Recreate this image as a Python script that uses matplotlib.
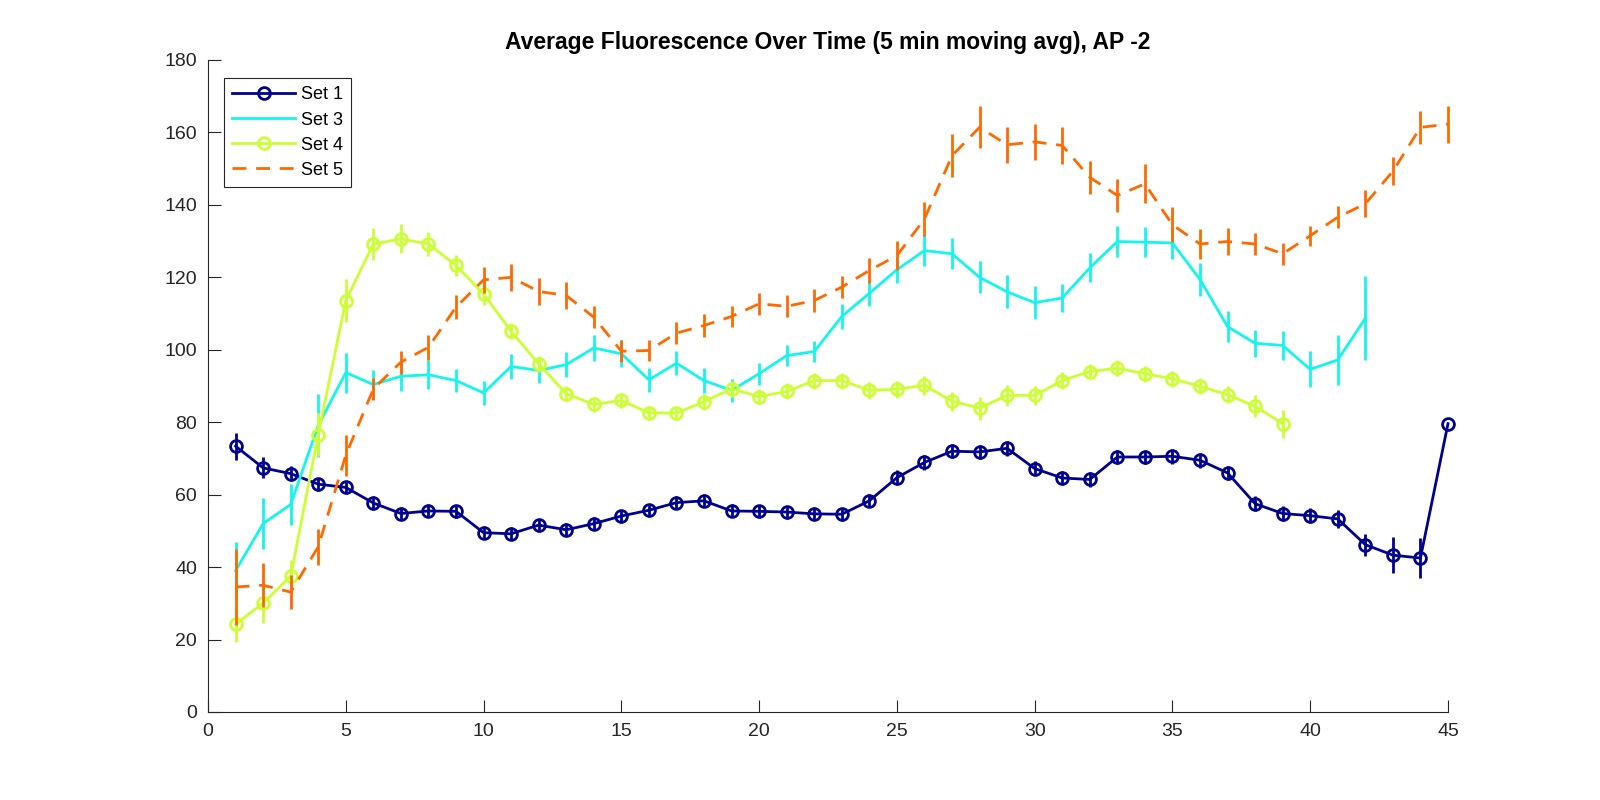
import numpy as np
import matplotlib
matplotlib.use("Agg")
import matplotlib.pyplot as plt

plt.rcParams['font.family'] = ['Liberation Sans', 'DejaVu Sans']

# valores
x1 = list(range(1, 46))
set1 = [73.4, 67.4, 65.8, 62.9, 62.0, 57.7, 54.8, 55.5, 55.4, 49.5,
        49.2, 51.6, 50.3, 52.0, 54.1, 55.7, 57.8, 58.3, 55.5, 55.4,
        55.2, 54.7, 54.6, 58.3, 64.7, 68.9, 72.0, 71.8, 72.8, 67.2,
        64.6, 64.2, 70.4, 70.4, 70.6, 69.5, 66.0, 57.5, 54.8, 54.2,
        53.3, 46.2, 43.3, 42.5, 79.6]
err1 = [3.7, 2.9, 2.0, 1.8, 1.8, 1.8, 1.8, 1.8, 1.8, 1.8,
        1.8, 1.8, 1.8, 1.8, 1.8, 1.8, 1.8, 1.8, 1.8, 1.8,
        1.8, 1.8, 1.8, 1.8, 2.0, 2.0, 2.0, 2.0, 2.0, 2.0,
        2.0, 2.0, 2.0, 2.0, 2.0, 2.0, 2.0, 2.0, 2.0, 2.0,
        2.5, 3.0, 5.0, 5.5, 0.0]

x3 = list(range(1, 43))
set3 = [39.0, 52.0, 57.3, 79.1, 93.7, 90.4, 92.7, 93.1, 91.5, 88.1,
        95.4, 94.3, 95.9, 100.5, 98.9, 91.7, 96.3, 91.5, 88.8, 93.4,
        98.4, 99.5, 109.2, 115.6, 122.1, 127.4, 126.5, 120.0, 116.0, 113.0,
        114.3, 122.6, 129.9, 129.7, 129.5, 119.4, 106.4, 101.8, 101.2, 94.6,
        97.2, 108.7]
err3 = [8.0, 7.0, 5.7, 8.7, 5.5, 4.0, 4.0, 4.0, 3.2, 3.4,
        3.5, 3.6, 3.4, 3.5, 3.7, 3.4, 3.4, 3.5, 3.2, 3.0,
        3.0, 3.0, 3.4, 3.5, 3.8, 4.3, 4.3, 4.4, 4.6, 4.5,
        3.8, 4.0, 4.2, 4.2, 4.5, 4.5, 4.2, 3.7, 4.0, 5.0,
        6.8, 11.6]

x4 = list(range(1, 40))
set4 = [24.2, 30.1, 37.5, 76.6, 113.6, 129.2, 130.6, 129.2, 123.3, 115.4,
        105.1, 96.1, 87.9, 84.9, 86.0, 82.6, 82.5, 85.7, 89.2, 87.1,
        88.5, 91.5, 91.5, 88.8, 89.1, 90.2, 85.8, 83.9, 87.4, 87.4,
        91.5, 94.0, 94.9, 93.4, 92.0, 89.9, 87.6, 84.4, 79.6]
err4 = [5.0, 5.5, 4.4, 6.0, 5.9, 4.5, 4.0, 3.2, 3.0, 3.0,
        2.2, 2.2, 2.0, 2.0, 2.0, 2.0, 2.0, 2.2, 2.2, 2.2,
        2.2, 2.2, 2.2, 2.4, 2.4, 2.6, 2.6, 3.2, 2.8, 2.6,
        2.4, 2.2, 2.2, 2.2, 2.2, 2.2, 2.4, 3.0, 3.9]

x5 = list(range(1, 46))
set5 = [34.5, 35.0, 33.1, 45.6, 70.9, 89.2, 96.6, 100.7, 111.8, 119.3,
        120.0, 116.1, 115.0, 109.0, 99.6, 99.8, 104.6, 106.7, 109.2, 112.7,
        112.0, 113.6, 117.3, 121.9, 126.0, 136.1, 153.6, 161.4, 156.6, 157.4,
        156.4, 147.6, 142.6, 145.8, 134.5, 129.2, 129.9, 129.2, 126.5, 131.5,
        136.6, 140.3, 149.3, 161.4, 162.3]
err5 = [10.6, 6.0, 4.8, 5.0, 5.7, 3.0, 3.2, 3.5, 3.4, 3.5,
        3.7, 3.7, 3.7, 3.0, 3.0, 3.0, 3.0, 3.2, 3.0, 3.0,
        3.0, 3.2, 3.0, 3.4, 4.0, 4.6, 6.0, 5.8, 5.0, 5.0,
        5.0, 4.6, 4.6, 5.4, 4.8, 4.1, 3.7, 3.0, 3.0, 2.8,
        3.0, 3.7, 3.9, 4.5, 5.1]

labels = ["Set 1", "Set 3", "Set 4", "Set 5"]
colors = ["#000090", "#14F5EC", "#CCFF33", "#FF6A00"]

fig = plt.figure(figsize=(16, 8), dpi=100)
ax = fig.add_axes([0.13, 0.11, 0.775, 0.815])

lw = 2.0
h1 = ax.errorbar(x1, set1, yerr=err1, color=colors[0], lw=lw, elinewidth=lw,
                 capsize=0, marker='o', ms=8.5, mew=2, mfc='none', zorder=2)
h3 = ax.errorbar(x3, set3, yerr=err3, color=colors[1], lw=lw, elinewidth=lw,
                 capsize=0, zorder=3)
h4 = ax.errorbar(x4, set4, yerr=err4, color=colors[2], lw=lw, elinewidth=lw,
                 capsize=0, marker='o', ms=8.5, mew=2, mfc='none', zorder=4)
h5 = ax.errorbar(x5, set5, yerr=err5, color=colors[3], lw=lw, elinewidth=lw,
                 capsize=0, ls='--', dashes=(5, 3.5), zorder=5)

# como en MATLAB, sin recortar en el borde
for h in [h1, h3, h4, h5]:
    h[0].set_clip_on(False)
    for bar in h[2]:
        bar.set_clip_on(False)

ax.set_xlim(0, 45)
ax.set_ylim(0, 180)
ax.set_xticks(np.arange(0, 46, 5))
ax.set_yticks(np.arange(0, 181, 20))

axcol = '#262626'
for s in ['top', 'right']:
    ax.spines[s].set_visible(False)
for s in ['left', 'bottom']:
    ax.spines[s].set_color(axcol)
    ax.spines[s].set_linewidth(0.8)
ax.tick_params(direction='in', length=9, width=0.8, colors=axcol,
               labelsize=14, pad=8)

ax.set_title("Average Fluorescence Over Time (5 min moving avg), AP -2",
             fontsize=16.5, fontweight='bold', color='black', pad=8)

leg = ax.legend([h1[0], h3[0], h4[0], h5[0]], labels, loc='upper left',
                bbox_to_anchor=(0.013, 0.972), borderaxespad=0,
                fontsize=13, handlelength=3.5, handletextpad=0.3,
                labelspacing=0.45, fancybox=False, framealpha=1,
                edgecolor=axcol, borderpad=0.45)
leg.get_frame().set_linewidth(0.8)

fig.savefig("out.png", dpi=100)
